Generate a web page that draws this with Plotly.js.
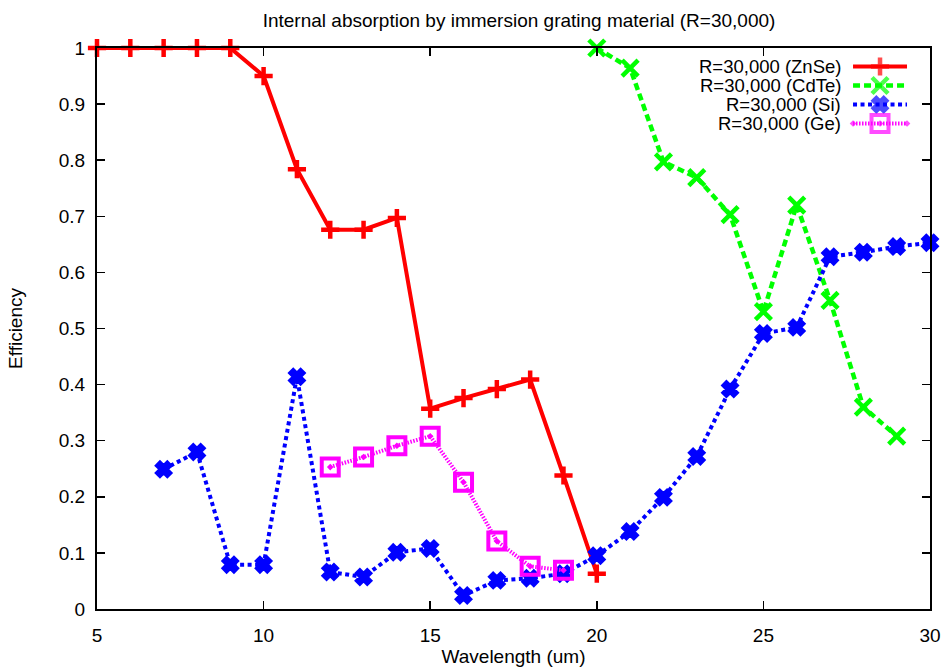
<!DOCTYPE html>
<html>
<head>
<meta charset="utf-8">
<script src="https://cdn.plot.ly/plotly-3.0.1.min.js"></script>
<style>
  html, body { margin: 0; padding: 0; background: #fff; }
  #chart { width: 943px; height: 667px; }
</style>
</head>
<body>
<div id="chart"></div>
<script>
// Efficiency vs. wavelength (um) for each immersion grating material, R=30,000
var znseWavelength = [5, 6, 7, 8, 9, 10, 11, 12, 13, 14, 15, 16, 17, 18, 19, 20];
var znseEfficiency = [1, 1, 1, 1, 1, 0.950, 0.784, 0.676, 0.676, 0.697, 0.357, 0.376, 0.392, 0.409, 0.238, 0.063];

var cdteWavelength = [20, 21, 22, 23, 24, 25, 26, 27, 28, 29];
var cdteEfficiency = [1.0, 0.964, 0.797, 0.769, 0.703, 0.530, 0.720, 0.550, 0.360, 0.308];

var siWavelength = [7, 8, 9, 10, 11, 12, 13, 14, 15, 16, 17, 18, 19, 20, 21, 22, 23, 24, 25, 26, 27, 28, 29, 30];
var siEfficiency = [0.249, 0.280, 0.079, 0.079, 0.414, 0.066, 0.057, 0.101, 0.108, 0.024, 0.051, 0.055, 0.063, 0.095,
                    0.138, 0.199, 0.272, 0.392, 0.491, 0.502, 0.628, 0.636, 0.646, 0.653];

var geWavelength = [12, 13, 14, 15, 16, 17, 18, 19];
var geEfficiency = [0.253, 0.271, 0.291, 0.308, 0.226, 0.121, 0.076, 0.069];

var seriesNames = ['R=30,000 (ZnSe)', 'R=30,000 (CdTe)', 'R=30,000 (Si)', 'R=30,000 (Ge)'];

var FONT = 'Liberation Sans, Arial, Helvetica, sans-serif';
var FS = 19;

// Line and marker styles per material
var styles = [
  { line: { color: '#ff0000', width: 4, dash: 'solid' },
    marker: { symbol: 'cross-thin-open', size: 13, color: '#ff0000', line: { color: '#ff0000', width: 4.5 } } },
  { line: { color: '#00ff00', width: 4.5, dash: '7px,4px' },
    marker: { symbol: 'x-thin-open', size: 16, color: '#00ff00', line: { color: '#00ff00', width: 4.5 } } },
  { line: { color: '#0000ff', width: 4, dash: '4px,3.5px' },
    marker: { symbol: 'x', size: 13, color: '#0000ff', line: { color: '#0000ff', width: 3 } } },
  { line: { color: '#ff00ff', width: 4, dash: '1.5px,1.5px' },
    marker: { symbol: 'square-open-dot', size: 17, color: '#ff00ff', line: { color: '#ff00ff', width: 4 } } }
];

var xs = [znseWavelength, cdteWavelength, siWavelength, geWavelength];
var ys = [znseEfficiency, cdteEfficiency, siEfficiency, geEfficiency];

var traces = [];
for (var i = 0; i < 4; i++) {
  traces.push({
    type: 'scatter',
    mode: 'lines+markers',
    name: seriesNames[i],
    x: xs[i],
    y: ys[i],
    line: styles[i].line,
    marker: styles[i].marker,
    cliponaxis: false,
    showlegend: false,
    hoverinfo: 'x+y'
  });
}

// Key in the upper right: label, then a line sample with the point symbol
var keyRows = [0.9670, 0.9331, 0.8993, 0.8654];
var keyLineX = [0.9076, 0.94, 0.9724];
var keyTextX = 0.8956;
var annotations = [];
for (var k = 0; k < 4; k++) {
  traces.push({
    type: 'scatter',
    mode: 'lines+markers',
    x: keyLineX,
    y: [keyRows[k], keyRows[k], keyRows[k]],
    xaxis: 'x2',
    yaxis: 'y2',
    line: styles[k].line,
    marker: Object.assign({}, styles[k].marker, { size: [0, styles[k].marker.size, 0] }),
    cliponaxis: false,
    showlegend: false,
    hoverinfo: 'skip'
  });
  annotations.push({
    xref: 'paper', yref: 'paper',
    x: keyTextX, y: keyRows[k],
    xanchor: 'right', yanchor: 'middle',
    text: seriesNames[k],
    showarrow: false,
    font: { family: FONT, size: 18.5, color: '#000' }
  });
}

var axisCommon = {
  showline: true,
  linecolor: '#000',
  linewidth: 2,
  mirror: 'allticks',
  ticks: 'inside',
  ticklen: 8,
  tickwidth: 1.5,
  tickcolor: '#000',
  showgrid: false,
  zeroline: false,
  tickfont: { family: FONT, size: FS, color: '#000' }
};

var layout = {
  width: 943,
  height: 667,
  paper_bgcolor: '#ffffff',
  plot_bgcolor: '#ffffff',
  margin: { l: 97, r: 13, t: 48, b: 58 },
  showlegend: false,
  title: {
    text: 'Internal absorption by immersion grating material (R=30,000)',
    font: { family: FONT, size: FS, color: '#000' },
    xref: 'container', yref: 'container',
    x: 0.5504, xanchor: 'center',
    y: 0.969, yanchor: 'middle'
  },
  xaxis: Object.assign({}, axisCommon, {
    range: [5, 30],
    tickmode: 'linear', tick0: 5, dtick: 5,
    ticklabelstandoff: 8,
    title: { text: 'Wavelength (um)', font: { family: FONT, size: FS, color: '#000' }, standoff: 6 }
  }),
  yaxis: Object.assign({}, axisCommon, {
    range: [0, 1],
    tickmode: 'linear', tick0: 0, dtick: 0.1,
    ticklabelstandoff: 6,
    title: { text: 'Efficiency', font: { family: FONT, size: FS, color: '#000' }, standoff: 31 }
  }),
  xaxis2: { overlaying: 'x', anchor: 'y2', range: [0, 1], visible: false, fixedrange: true },
  yaxis2: { overlaying: 'y', anchor: 'x2', range: [0, 1], visible: false, fixedrange: true },
  annotations: annotations
};

Plotly.newPlot('chart', traces, layout, { displayModeBar: false, staticPlot: true });
</script>
</body>
</html>
